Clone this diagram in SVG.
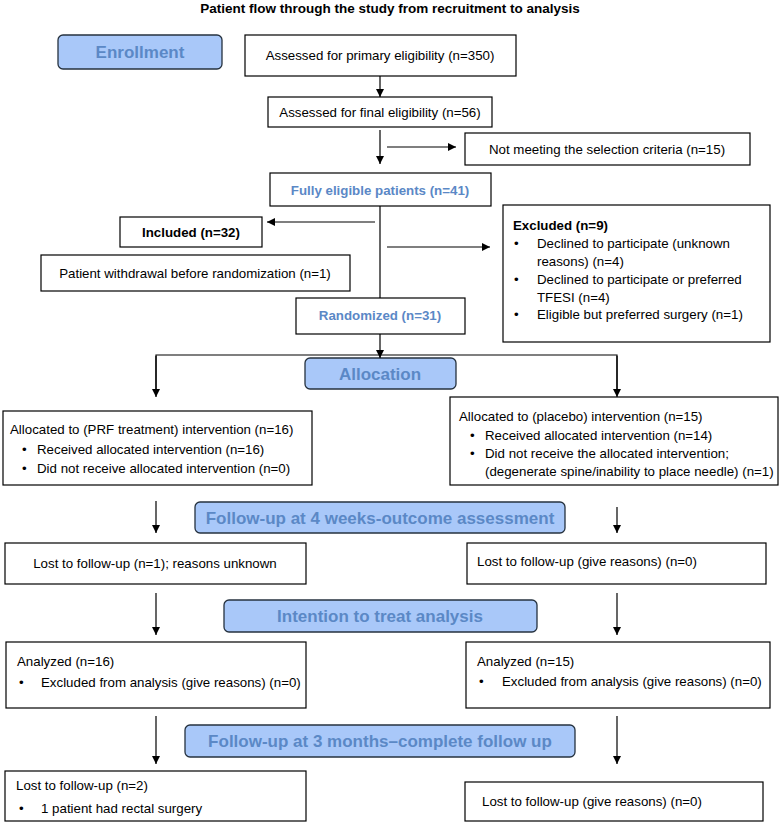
<svg xmlns="http://www.w3.org/2000/svg" width="781" height="826" viewBox="0 0 781 826">
<defs>
<marker id="ah" viewBox="0 0 10 10" refX="10" refY="5" markerWidth="8" markerHeight="8" markerUnits="userSpaceOnUse" orient="auto">
<path d="M0,0 L10,5 L0,10 z" fill="#000"/>
</marker>
<style>
text{font-family:"Liberation Sans",Arial,sans-serif;font-size:13.3px;fill:#000}
.box{fill:#fff;stroke:#000;stroke-width:1.2}
.hdr{fill:#a9c8f9;stroke:#26323f;stroke-width:1.3}
.ht{font-weight:bold;font-size:17px;fill:#5b88c6;text-anchor:middle}
.bt{font-weight:bold;fill:#5b88c6;text-anchor:middle}
.c{text-anchor:middle}
.b{font-weight:bold}
.ln{stroke:#000;stroke-width:1.2;fill:none}
.ar{stroke:#000;stroke-width:1.2;fill:none;marker-end:url(#ah)}
</style>
</defs>
<rect width="781" height="826" fill="#fff"/>
<text x="390" y="13" class="c b" style="font-size:13.5px">Patient flow through the study from recruitment to analysis</text>

<g id="enrollment"><rect class="hdr" x="58" y="35" width="164" height="34" rx="5"/><text class="ht" x="140" y="58">Enrollment</text></g>
<g id="primary"><rect class="box" x="245" y="35" width="271" height="41"/><text class="c" x="380" y="60">Assessed for primary eligibility (n=350)</text></g>
<g id="final"><rect class="box" x="268" y="97" width="224" height="30"/><text class="c" x="380" y="117">Assessed for final eligibility (n=56)</text></g>
<g id="notmeeting"><rect class="box" x="465" y="133" width="285" height="32"/><text class="c" x="607" y="154">Not meeting the selection criteria (n=15)</text></g>
<g id="fully"><rect class="box" x="270" y="173" width="221" height="33"/><text class="bt" x="380" y="195">Fully eligible patients (n=41)</text></g>
<g id="included"><rect class="box" x="120" y="217" width="142" height="30"/><text class="c b" x="191" y="237">Included (n=32)</text></g>
<g id="withdrawal"><rect class="box" x="41" y="255" width="309" height="36"/><text class="c" x="195" y="278">Patient withdrawal before randomization (n=1)</text></g>
<g id="excluded"><rect class="box" x="503" y="205" width="267" height="137"/>
<text class="b" x="513" y="230">Excluded (n=9)</text>
<text x="514" y="248">•</text><text x="537" y="248">Declined to participate (unknown</text>
<text x="537" y="266">reasons) (n=4)</text>
<text x="514" y="284">•</text><text x="537" y="284">Declined to participate or preferred</text>
<text x="537" y="302">TFESI (n=4)</text>
<text x="514" y="319">•</text><text x="537" y="319">Eligible but preferred surgery (n=1)</text>
</g>
<g id="randomized"><rect class="box" x="296" y="298" width="169" height="36"/><text class="bt" x="380" y="320">Randomized (n=31)</text></g>
<g id="allocation"><rect class="hdr" x="305" y="358" width="151" height="31" rx="5"/><text class="ht" x="380" y="380">Allocation</text></g>
<g id="alloc-left"><rect class="box" x="3" y="411" width="309" height="74"/>
<text x="10" y="434">Allocated to (PRF treatment) intervention (n=16)</text>
<text x="22" y="454">•</text><text x="37" y="454">Received allocated intervention (n=16)</text>
<text x="22" y="473">•</text><text x="37" y="473">Did not receive allocated intervention (n=0)</text>
</g>
<g id="alloc-right"><rect class="box" x="450" y="397" width="328" height="88"/>
<text x="459" y="421">Allocated to (placebo) intervention (n=15)</text>
<text x="470" y="440">•</text><text x="485" y="440">Received allocated intervention (n=14)</text>
<text x="470" y="458">•</text><text x="485" y="458">Did not receive the allocated intervention;</text>
<text x="485" y="476">(degenerate spine/inability to place needle) (n=1)</text>
</g>
<g id="fu4"><rect class="hdr" x="195" y="502" width="370" height="31" rx="5"/><text class="ht" x="380" y="524">Follow-up at 4 weeks-outcome assessment</text></g>
<g id="lost4-left"><rect class="box" x="5" y="543" width="301" height="41"/><text class="c" x="155" y="568">Lost to follow-up (n=1); reasons unknown</text></g>
<g id="lost4-right"><rect class="box" x="467" y="543" width="299" height="41"/><text x="477" y="566">Lost to follow-up (give reasons) (n=0)</text></g>
<g id="itt"><rect class="hdr" x="224" y="600" width="313" height="32" rx="5"/><text class="ht" x="380" y="622">Intention to treat analysis</text></g>
<g id="analyzed-left"><rect class="box" x="6" y="642" width="300" height="66"/>
<text x="17" y="666">Analyzed (n=16)</text>
<text x="19" y="687">•</text><text x="41" y="687">Excluded from analysis (give reasons) (n=0)</text>
</g>
<g id="analyzed-right"><rect class="box" x="466" y="642" width="304" height="66"/>
<text x="477" y="666">Analyzed (n=15)</text>
<text x="479" y="686">•</text><text x="502" y="686">Excluded from analysis (give reasons) (n=0)</text>
</g>
<g id="fu3"><rect class="hdr" x="185" y="725" width="390" height="32" rx="5"/><text class="ht" x="380" y="747">Follow-up at 3 months–complete follow up</text></g>
<g id="lost3-left"><rect class="box" x="5" y="771" width="301" height="50"/>
<text x="16" y="790">Lost to follow-up (n=2)</text>
<text x="19" y="813">•</text><text x="41" y="813">1 patient had rectal surgery</text>
</g>
<g id="lost3-right"><rect class="box" x="465" y="782" width="298" height="39"/><text x="482" y="806">Lost to follow-up (give reasons) (n=0)</text></g>

<g id="connectors">
<line class="ar" x1="380" y1="76" x2="380" y2="97"/>
<line class="ar" x1="380" y1="130" x2="380" y2="164"/>
<line class="ar" x1="387" y1="147" x2="456" y2="147"/>
<line class="ln" x1="380" y1="206" x2="380" y2="298"/>
<line class="ar" x1="375" y1="222" x2="267" y2="222"/>
<line class="ar" x1="387" y1="247" x2="490" y2="247"/>
<line class="ar" x1="380" y1="334" x2="380" y2="358"/>
<polyline class="ln" points="156,390 156,355 617,355 617,390"/>
<line class="ar" x1="156" y1="356" x2="156" y2="397"/>
<line class="ar" x1="617" y1="356" x2="617" y2="397"/>
<line class="ar" x1="156" y1="501" x2="156" y2="533"/>
<line class="ar" x1="617" y1="507" x2="617" y2="533"/>
<line class="ar" x1="156" y1="593" x2="156" y2="635"/>
<line class="ar" x1="617" y1="593" x2="617" y2="635"/>
<line class="ar" x1="156" y1="716" x2="156" y2="764"/>
<line class="ar" x1="617" y1="716" x2="617" y2="764"/>
</g>
</svg>
